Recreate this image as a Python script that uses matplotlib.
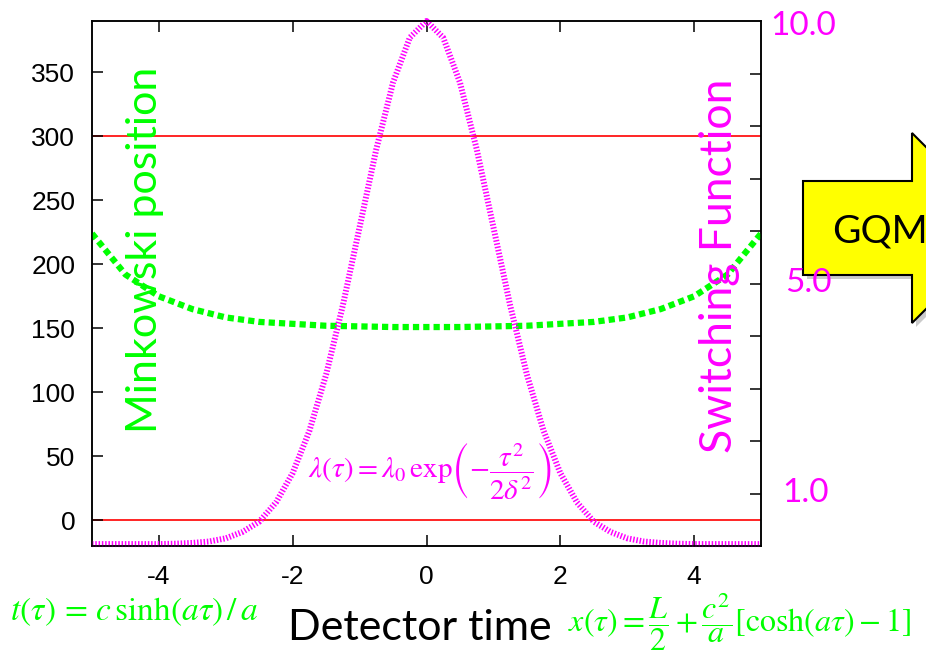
import matplotlib
matplotlib.use('Agg')
import matplotlib.pyplot as plt
from matplotlib.patches import Polygon

plt.rcParams['mathtext.fontset'] = 'stix'
plt.rcParams['axes.unicode_minus'] = False
plt.rcParams['font.family'] = ['Liberation Sans', 'DejaVu Sans']

# Minkowski position x(tau), read every 0.5 along detector time
tau_mink = [-5, -4.5, -4, -3.5, -3, -2.5, -2, -1.5, -1, -0.5, 0,
            0.5, 1, 1.5, 2, 2.5, 3, 3.5, 4, 4.5, 5]
mink_pos = [224, 192, 175, 165, 158.5, 155, 153.5, 152, 151.5, 151, 151,
            151, 151.5, 152, 153.5, 155, 158.5, 165, 175, 192, 224]

# switching function (gaussian), read every 0.25
tau_sw = [-5, -4.75, -4.5, -4.25, -4, -3.75, -3.5, -3.25, -3, -2.75, -2.5,
          -2.25, -2, -1.75, -1.5, -1.25, -1, -0.75, -0.5, -0.25, 0,
          0.25, 0.5, 0.75, 1, 1.25, 1.5, 1.75, 2, 2.25, 2.5,
          2.75, 3, 3.25, 3.5, 3.75, 4, 4.25, 4.5, 4.75, 5]
switch = [-18.5, -18.5, -18.5, -18.5, -18.5, -18.2, -17.6, -16.5, -14, -9, -1,
          14, 37, 70, 114, 168, 229, 290, 342, 377, 390,
          377, 342, 290, 229, 168, 114, 70, 37, 14, -1,
          -9, -14, -16.5, -17.6, -18.2, -18.5, -18.5, -18.5, -18.5, -18.5]

red_levels = [0, 300]
left_ticks = [0, 50, 100, 150, 200, 250, 300, 350]
x_ticks = [-4, -2, 0, 2, 4]
right_ticks = [1, 2, 3, 4, 5, 6, 7, 8, 9]
right_labels = [(10, '10.0'), (5, '5.0'), (1, '1.0')]

W, H = 926, 656
fig = plt.figure(figsize=(9.26, 6.56), dpi=100)

def fx(x, y):
    return x / W, 1 - y / H

# GQM arrow behind everything
arrow_px = [(803, 181), (912, 181), (912, 133), (1007, 228), (912, 323), (912, 275), (803, 275)]
shadow = Polygon([fx(x + 4, y + 4) for x, y in arrow_px], closed=True, transform=fig.transFigure,
                 facecolor='#999999', edgecolor='none', alpha=0.5)
fig.add_artist(shadow)
arrow = Polygon([fx(x, y) for x, y in arrow_px], closed=True, transform=fig.transFigure,
                facecolor='#ffff00', edgecolor='black', linewidth=1.5)
fig.add_artist(arrow)
fig.text(*fx(832, 232), 'GQM', fontsize=28, family='Lato', va='center', ha='left')

ax = fig.add_axes([92 / W, 1 - 546 / H, (761 - 92) / W, (546 - 21) / H])
for lv in red_levels:
    ax.axhline(lv, color='red', linewidth=1.2, zorder=1)

ax.plot(tau_mink, mink_pos, color='#00ff00', linewidth=4.5,
        dashes=(1.0, 0.65), dash_capstyle='butt', zorder=3)
ax.plot(tau_sw, switch, color='#ff00ff', linewidth=4.3,
        dashes=(0.25, 0.3), dash_capstyle='butt', clip_on=False, zorder=3)

ax.set_xlim(-5, 5)
ax.set_ylim(-20, 390)
ax.set_xticks(x_ticks)
ax.set_yticks(left_ticks)
ax.tick_params(direction='in', top=True, right=False, length=8, width=1.1,
               labelsize=19, pad=12)
ax.tick_params(axis='x', pad=14)
for s in ax.spines.values():
    s.set_linewidth(1.1)

ax2 = ax.twinx()
ax2.set_ylim(0, 10)
ax2.set_yticks(right_ticks)
ax2.tick_params(direction='in', length=8, width=1.1, labelright=False)
for s in ax2.spines.values():
    s.set_linewidth(1.1)

# right side labels, placed by hand like the original
right_x = {10: 770, 5: 785, 1: 782}
for v, lab in right_labels:
    ypx = 546 - v * 52.5
    if v == 10:
        ypx = 26
    fig.text(*fx(right_x[v], ypx), lab, fontsize=24, family='Lato', color='#ff00ff',
             va='center', ha='left')

fig.text(*fx(145, 250), 'Minkowski position', rotation=90, fontsize=31, family='Lato',
         color='#00ff00', va='center', ha='center')
fig.text(*fx(719, 266), 'Switching Function', rotation=90, fontsize=32, family='Lato',
         color='#ff00ff', va='center', ha='center')
fig.text(*fx(420, 628), 'Detector time', fontsize=31, family='Lato', va='center', ha='center')

fig.text(*fx(10, 612), r'$t(\tau)\,=\,c\,\mathrm{sinh}(a\tau)\,/\,a$', fontsize=24,
         color='#00ff00', va='center', ha='left')
fig.text(*fx(568, 622), r'$x(\tau)=\dfrac{L}{2}+\dfrac{c^2}{a}[\mathrm{cosh}(a\tau)-1]$',
         fontsize=23, color='#00ff00', va='center', ha='left')
fig.text(*fx(308, 472), r'$\lambda(\tau)=\lambda_0\,\mathrm{exp}\left(-\dfrac{\tau^2}{2\delta^2}\right)$',
         fontsize=21, color='#ff00ff', va='center', ha='left')

fig.savefig('out.png', dpi=100)
